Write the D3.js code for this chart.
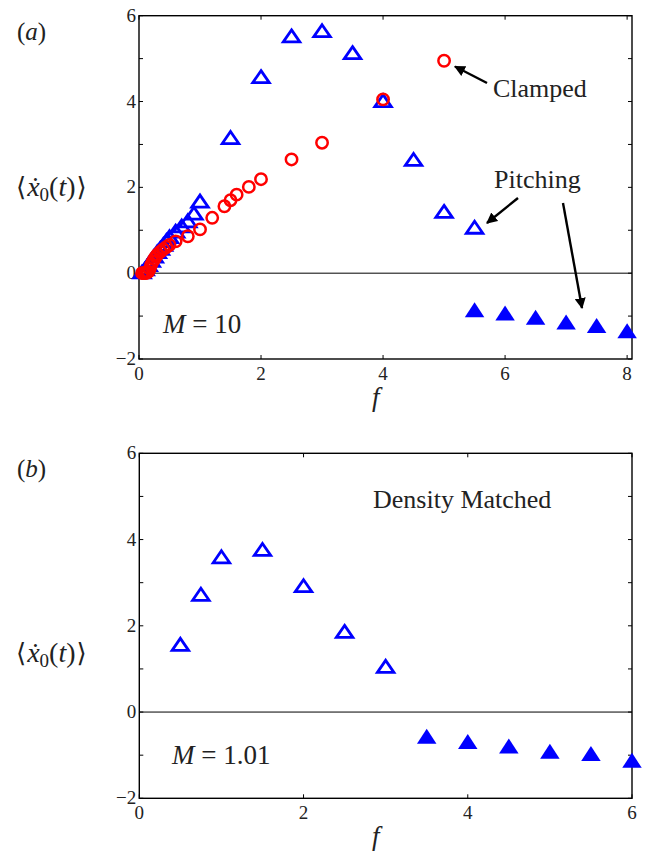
<!DOCTYPE html>
<html>
<head>
<meta charset="utf-8">
<script src="https://cdn.jsdelivr.net/npm/d3@7"></script>
<style>
body { margin: 0; background: #fff; }
text { font-family: "Liberation Serif", "DejaVu Serif", serif; fill: #222; }
</style>
</head>
<body>
<svg width="646" height="854"></svg>
<script>
// panel (a), M = 10
var aOpenF = [0.05, 0.1, 0.15, 0.2, 0.25, 0.3, 0.35, 0.4, 0.45, 0.5, 0.6, 0.7, 0.8, 0.9, 1.0, 1.5, 2, 2.5, 3, 3.5, 4, 4.5, 5, 5.5];
var aOpenV = [0.03, 0.1, 0.2, 0.3, 0.4, 0.5, 0.58, 0.67, 0.76, 0.85, 0.98, 1.1, 1.22, 1.4, 1.68, 3.16, 4.58, 5.53, 5.65, 5.14, 4.02, 2.65, 1.44, 1.07];
var aFillF = [5.5, 6, 6.5, 7, 7.5, 8];
var aFillV = [-0.85, -0.93, -1.03, -1.14, -1.22, -1.34];
var aCircF = [0.05, 0.075, 0.1, 0.125, 0.15, 0.175, 0.2, 0.225, 0.25, 0.275, 0.3, 0.35, 0.4, 0.45, 0.5, 0.6, 0.8, 1.0, 1.2, 1.4, 1.5, 1.6, 1.8, 2, 2.5, 3, 4, 5];
var aCircV = [0, 0, 0, 0.01, 0.03, 0.1, 0.2, 0.27, 0.33, 0.38, 0.43, 0.5, 0.56, 0.61, 0.66, 0.74, 0.86, 1.02, 1.29, 1.56, 1.7, 1.83, 2.01, 2.19, 2.65, 3.04, 4.05, 4.95];

// panel (b), M = 1.01
var bOpenF = [0.5, 0.75, 1, 1.5, 2, 2.5, 3];
var bOpenV = [1.57, 2.73, 3.6, 3.77, 2.93, 1.87, 1.06];
var bFillF = [3.5, 4, 4.5, 5, 5.5, 6];
var bFillV = [-0.56, -0.68, -0.79, -0.91, -0.96, -1.12];

var xTicksA = [0, 2, 4, 6, 8];
var xTicksB = [0, 2, 4, 6];
var yTicks = [-2, -1, 0, 1, 2, 3, 4, 5, 6];

var svg = d3.select('svg');
svg.append('rect').attr('width', 646).attr('height', 854).attr('fill', 'white');

svg.append('defs').append('marker')
    .attr('id', 'head')
    .attr('viewBox', '0 0 10 10')
    .attr('refX', 9).attr('refY', 5)
    .attr('markerWidth', 4.6).attr('markerHeight', 4.6)
    .attr('markerUnits', 'strokeWidth')
    .attr('orient', 'auto')
    .append('path')
    .attr('d', 'M0,0 L10,5 L0,10 z')
    .attr('fill', 'black');

function zip(a, b) {
    return a.map(function(v, i) { return {f: v, v: b[i]}; });
}

function tri(w, h) {
    return 'M0,' + (-h / 2) + 'L' + (w / 2) + ',' + (h / 2) + 'L' + (-w / 2) + ',' + (h / 2) + 'Z';
}

function panel(p) {
    var x = d3.scaleLinear().domain(p.xdom).range([p.left, p.right]);
    var y = d3.scaleLinear().domain([-2, 6]).range([p.bottom, p.top]);
    var g = svg.append('g');

    // zero line
    g.append('line')
        .attr('x1', x(p.xdom[0])).attr('x2', x(p.xdom[1]))
        .attr('y1', y(0)).attr('y2', y(0))
        .attr('stroke', 'black').attr('stroke-width', 1);

    // ticks, inward on all sides
    var tl = 4;
    p.xticks.forEach(function(t) {
        g.append('line').attr('x1', x(t)).attr('x2', x(t)).attr('y1', p.bottom).attr('y2', p.bottom - tl)
            .attr('stroke', 'black').attr('stroke-width', 1);
        g.append('line').attr('x1', x(t)).attr('x2', x(t)).attr('y1', p.top).attr('y2', p.top + tl)
            .attr('stroke', 'black').attr('stroke-width', 1);
        g.append('text').attr('x', x(t)).attr('y', p.bottom + 21)
            .attr('text-anchor', 'middle').attr('font-size', 19)
            .text(t);
    });
    yTicks.forEach(function(t) {
        g.append('line').attr('x1', p.left).attr('x2', p.left + tl).attr('y1', y(t)).attr('y2', y(t))
            .attr('stroke', 'black').attr('stroke-width', 1);
        g.append('line').attr('x1', p.right).attr('x2', p.right - tl).attr('y1', y(t)).attr('y2', y(t))
            .attr('stroke', 'black').attr('stroke-width', 1);
        if (t % 2 === 0) {
            g.append('text').attr('x', p.left - 3).attr('y', y(t) + 6)
                .attr('text-anchor', 'end').attr('font-size', 19)
                .text(t < 0 ? '\u2212' + (-t) : t);
        }
    });

    // frame
    g.append('rect')
        .attr('x', p.left).attr('y', p.top)
        .attr('width', p.right - p.left).attr('height', p.bottom - p.top)
        .attr('fill', 'none').attr('stroke', 'black').attr('stroke-width', 1.4);

    // open triangles
    g.selectAll('.open').data(zip(p.openF, p.openV)).enter().append('path')
        .attr('class', 'open')
        .attr('d', tri(16.5, 12))
        .attr('transform', function(d) { return 'translate(' + x(d.f) + ',' + y(d.v) + ')'; })
        .attr('fill', 'none').attr('stroke', '#0000ff').attr('stroke-width', 2.8)
        .attr('stroke-linejoin', 'miter');

    // filled triangles
    g.selectAll('.fill').data(zip(p.fillF, p.fillV)).enter().append('path')
        .attr('class', 'fill')
        .attr('d', tri(19.5, 15))
        .attr('transform', function(d) { return 'translate(' + x(d.f) + ',' + y(d.v) + ')'; })
        .attr('fill', '#0000ff');

    // circles
    if (p.circF) {
        g.selectAll('.circ').data(zip(p.circF, p.circV)).enter().append('circle')
            .attr('class', 'circ')
            .attr('cx', function(d) { return x(d.f); })
            .attr('cy', function(d) { return y(d.v); })
            .attr('r', 5.7)
            .attr('fill', 'none').attr('stroke', '#ff0000').attr('stroke-width', 2.5);
    }

    // labels
    g.append('text').attr('x', 17).attr('y', p.top + 24)
        .attr('font-size', 25)
        .html('(<tspan font-style="italic">' + p.tag + '</tspan>)');

    var yl = g.append('text').attr('x', 16).attr('y', p.ylabY).attr('font-size', 28);
    yl.append('tspan').attr('font-family', 'DejaVu Serif').attr('font-size', 26).text('\u27e8');
    yl.append('tspan').attr('font-style', 'italic').attr('dx', 1).text('\u1e8b');
    yl.append('tspan').attr('font-size', 19).attr('dy', 5).text('0');
    yl.append('tspan').attr('dy', -5).text('(');
    yl.append('tspan').attr('font-style', 'italic').text('t');
    yl.append('tspan').text(')');
    yl.append('tspan').attr('font-family', 'DejaVu Serif').attr('font-size', 26).attr('dx', 1).text('\u27e9');

    g.append('text').attr('x', x(p.xdom[0] + (p.xdom[1] - p.xdom[0]) * 0.48)).attr('y', p.bottom + 47)
        .attr('text-anchor', 'middle').attr('font-size', 27).attr('font-style', 'italic')
        .text('f');

    var m = g.append('text').attr('x', p.mx).attr('y', p.my).attr('font-size', 27);
    m.append('tspan').attr('font-style', 'italic').text('M');
    m.append('tspan').text(' = ' + p.mval);

    return {x: x, y: y};
}

var A = panel({
    left: 139, right: 632, top: 15.7, bottom: 359,
    xdom: [0, 8.08], xticks: xTicksA,
    openF: aOpenF, openV: aOpenV, fillF: aFillF, fillV: aFillV,
    circF: aCircF, circV: aCircV,
    tag: 'a', ylabY: 196, mx: 163, my: 333, mval: '10'
});

var B = panel({
    left: 139.3, right: 632, top: 453.3, bottom: 798.3,
    xdom: [0, 6], xticks: xTicksB,
    openF: bOpenF, openV: bOpenV, fillF: bFillF, fillV: bFillV,
    tag: 'b', ylabY: 662, mx: 172, my: 764, mval: '1.01'
});

// annotations
svg.append('text').attr('x', 493).attr('y', 97).attr('font-size', 26).text('Clamped');
svg.append('text').attr('x', 494).attr('y', 188).attr('font-size', 26).text('Pitching');
svg.append('text').attr('x', 373).attr('y', 508).attr('font-size', 26).text('Density Matched');

var arrows = [
    [487, 83, 455, 66.5],
    [518, 198, 487, 223],
    [563, 203, 582, 308]
];
svg.selectAll('.arrow').data(arrows).enter().append('line')
    .attr('class', 'arrow')
    .attr('x1', function(d) { return d[0]; })
    .attr('y1', function(d) { return d[1]; })
    .attr('x2', function(d) { return d[2]; })
    .attr('y2', function(d) { return d[3]; })
    .attr('stroke', 'black').attr('stroke-width', 2.4)
    .attr('marker-end', 'url(#head)');
</script>
</body>
</html>
